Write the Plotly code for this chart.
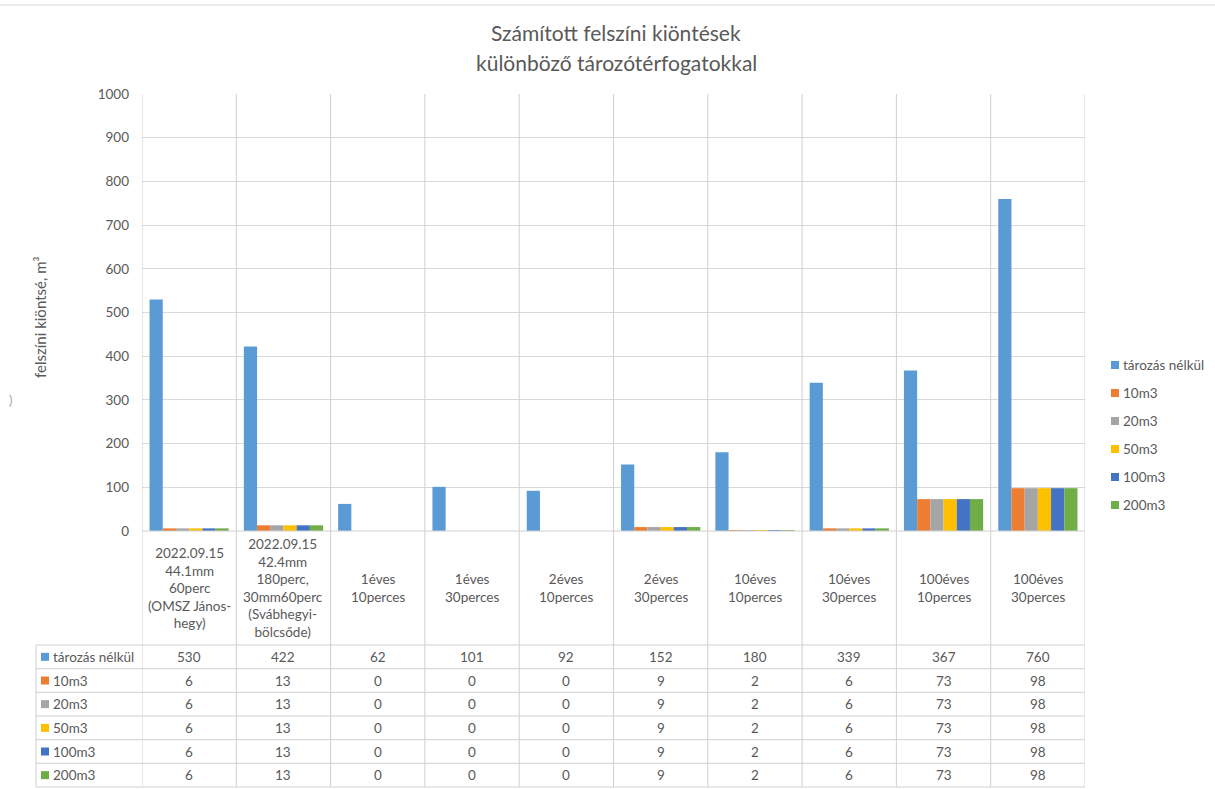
import plotly.graph_objects as go

# Rainfall scenarios (category labels as shown under the bars)
categories = [
    "2022.09.15<br>44.1mm<br>60perc<br>(OMSZ János-<br>hegy)",
    "2022.09.15<br>42.4mm<br>180perc,<br>30mm60perc<br>(Svábhegyi-<br>bölcsőde)",
    "1éves<br>10perces",
    "1éves<br>30perces",
    "2éves<br>10perces",
    "2éves<br>30perces",
    "10éves<br>10perces",
    "10éves<br>30perces",
    "100éves<br>10perces",
    "100éves<br>30perces",
]

series_names = ["tározás nélkül", "10m3", "20m3", "50m3", "100m3", "200m3"]

no_storage = [530, 422, 62, 101, 92, 152, 180, 339, 367, 760]
storage_10 = [6, 13, 0, 0, 0, 9, 2, 6, 73, 98]
storage_20 = [6, 13, 0, 0, 0, 9, 2, 6, 73, 98]
storage_50 = [6, 13, 0, 0, 0, 9, 2, 6, 73, 98]
storage_100 = [6, 13, 0, 0, 0, 9, 2, 6, 73, 98]
storage_200 = [6, 13, 0, 0, 0, 9, 2, 6, 73, 98]

series_values = [no_storage, storage_10, storage_20, storage_50, storage_100, storage_200]
colors = ["#5B9BD5", "#ED7D31", "#A5A5A5", "#FFC000", "#4472C4", "#70AD47"]

y_ticks = [0, 100, 200, 300, 400, 500, 600, 700, 800, 900, 1000]

W, H = 1215, 789
PL, PR, PT, PB = 142, 1085, 94, 531  # plot area in pixels
FONT = "Lato, 'Open Sans', sans-serif"
TXT = "#595959"
GRID = "#d9d9d9"
FS = 13.5


def py(pix):
    """Pixel row -> paper y."""
    return (PB - pix) / (PB - PT)


def px(pix):
    """Pixel column -> paper x."""
    return (pix - PL) / (PR - PL)


x = list(range(len(categories)))

fig = go.Figure()
for i, (name, vals) in enumerate(zip(series_names, series_values)):
    fig.add_trace(go.Bar(
        x=x, y=vals, name=name, marker=dict(color=colors[i], line=dict(width=0)),
        showlegend=False,
    ))

shapes = []
annotations = []

# table geometry
label_top, label_bottom = 531, 645
row_edges = [645, 668.7, 692.3, 716, 739.7, 763.3, 787]
table_left = 36

line_style = dict(color="#d0d0d0", width=1)

# vertical cell borders through plot and table
for k in range(len(categories) + 1):
    shapes.append(dict(type="line", xref="x", yref="paper", x0=k - 0.5, x1=k - 0.5,
                       y0=py(row_edges[-1]), y1=1, line=line_style))
# horizontal borders
shapes.append(dict(type="line", xref="paper", yref="paper", x0=0, x1=1,
                   y0=py(label_top), y1=py(label_top), line=line_style))
for r in row_edges:
    shapes.append(dict(type="line", xref="paper", yref="paper", x0=px(table_left), x1=1,
                       y0=py(r), y1=py(r), line=line_style))
shapes.append(dict(type="line", xref="paper", yref="paper", x0=px(table_left), x1=px(table_left),
                   y0=py(row_edges[-1]), y1=py(row_edges[0]), line=line_style))
# top border line of the frame
shapes.append(dict(type="line", xref="paper", yref="paper", x0=px(0), x1=px(W),
                   y0=py(5), y1=py(5), line=dict(color="#d9d9d9", width=1)))

# category label row
for i, cat in enumerate(categories):
    annotations.append(dict(xref="x", yref="paper", x=i, y=py((label_top + label_bottom) / 2),
                            text=cat, showarrow=False, xanchor="center", yanchor="middle",
                            font=dict(family=FONT, size=FS, color=TXT)))

# series rows with key squares
for r, (name, vals) in enumerate(zip(series_names, series_values)):
    yc = py((row_edges[r] + row_edges[r + 1]) / 2)
    shapes.append(dict(type="rect", xref="paper", yref="paper",
                       x0=px(41), x1=px(49), y0=yc - 4 / (PB - PT), y1=yc + 4 / (PB - PT),
                       fillcolor=colors[r], line=dict(width=0)))
    annotations.append(dict(xref="paper", yref="paper", x=px(51), y=yc, text=name,
                            showarrow=False, xanchor="left", yanchor="middle",
                            font=dict(family=FONT, size=FS, color=TXT)))
    for i, v in enumerate(vals):
        annotations.append(dict(xref="x", yref="paper", x=i, y=yc, text=str(v),
                                showarrow=False, xanchor="center", yanchor="middle",
                                font=dict(family=FONT, size=FS, color=TXT)))

# legend on the right
for r, name in enumerate(series_names):
    yc = py(365 + 28 * r)
    shapes.append(dict(type="rect", xref="paper", yref="paper",
                       x0=px(1111), x1=px(1119), y0=yc - 4 / (PB - PT), y1=yc + 4 / (PB - PT),
                       fillcolor=colors[r], line=dict(width=0)))
    annotations.append(dict(xref="paper", yref="paper", x=px(1121), y=yc, text=name,
                            showarrow=False, xanchor="left", yanchor="middle",
                            font=dict(family=FONT, size=FS, color=TXT)))

# title lines
annotations.append(dict(xref="paper", yref="paper", x=px(616), y=py(33),
                        text="Számított felszíni kiöntések", showarrow=False,
                        xanchor="center", yanchor="middle",
                        font=dict(family=FONT, size=21, color=TXT)))
annotations.append(dict(xref="paper", yref="paper", x=px(616), y=py(62),
                        text="különböző tározótérfogatokkal", showarrow=False,
                        xanchor="center", yanchor="middle",
                        font=dict(family=FONT, size=21, color=TXT)))
# y axis title
annotations.append(dict(xref="paper", yref="paper", x=px(40), y=py(317),
                        text="felszíni kiöntsé, m³", showarrow=False, textangle=-90,
                        xanchor="center", yanchor="middle",
                        font=dict(family=FONT, size=15, color=TXT)))
# clipped bracket at the left frame edge
annotations.append(dict(xref="paper", yref="paper", x=px(10), y=py(400),
                        text=")", showarrow=False, xanchor="center", yanchor="middle",
                        font=dict(family=FONT, size=13, color="#a6a6a6")))

fig.update_layout(
    width=W, height=H,
    margin=dict(l=PL, r=W - PR, t=PT, b=H - PB, autoexpand=False),
    paper_bgcolor="white", plot_bgcolor="white",
    barmode="group", bargap=0.16, bargroupgap=0,
    xaxis=dict(range=[-0.5, len(categories) - 0.5], showticklabels=False, showgrid=False,
               zeroline=False, showline=False, fixedrange=True),
    yaxis=dict(range=[0, 1000], tickvals=y_ticks, showgrid=True, gridcolor=GRID, gridwidth=1,
               zeroline=False, showline=False, ticks="", ticklabelstandoff=12,
               tickfont=dict(family=FONT, size=FS, color=TXT)),
    shapes=shapes, annotations=annotations,
    showlegend=False,
)

fig.write_html("out.html")
